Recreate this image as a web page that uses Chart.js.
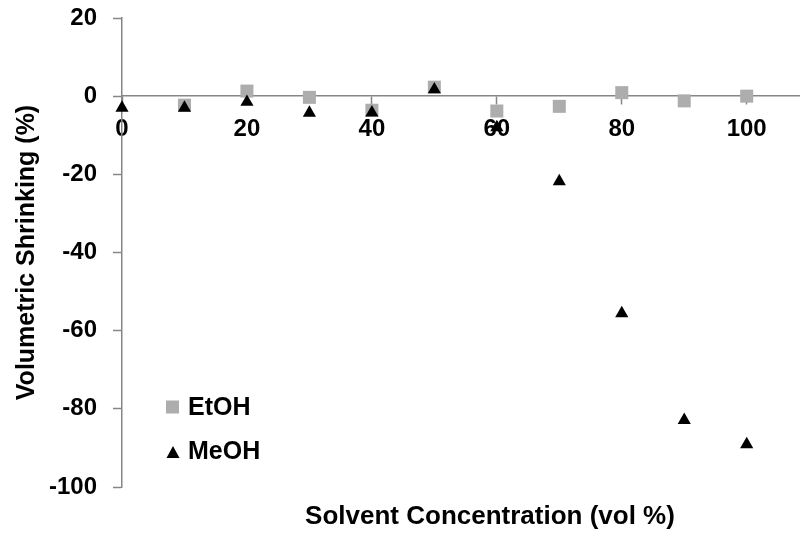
<!DOCTYPE html>
<html>
<head>
<meta charset="utf-8">
<script src="https://cdn.jsdelivr.net/npm/chart.js@4.4.0/dist/chart.umd.min.js"></script>
<style>
  html, body { margin: 0; padding: 0; background: #fff; }
  #wrap { width: 809px; height: 539px; }
</style>
</head>
<body>
<div id="wrap"><canvas id="shrink"></canvas></div>
<script>
const concentration = [0, 10, 20, 30, 40, 50, 60, 70, 80, 90, 100]
const etoh = [null, -2.3, 1.3, -0.3, -3.6, 2.3, -3.8, -2.6, 0.9, -1.2, 0.0]
const meoh = [-3.0, -3.0, -1.5, -4.3, -4.2, 1.7, -8.0, -21.8, -55.6, -82.9, -89.1]
const yTicks = [20, 0, -20, -40, -60, -80, -100]
const xTicks = [0, 20, 40, 60, 80, 100]

const axisGray = '#868686'
const squareGray = '#ADADAD'
const fontFamily = '"Liberation Sans", Arial, sans-serif'
const tickFont = { family: fontFamily, size: 24, weight: 'bold' }

const toPoints = (arr) => concentration.map((c, i) => ({ x: c, y: arr[i] })).filter(p => p.y !== null)

// legend + bottom axis title drawn by hand so they sit where the original has them
const extras = {
  id: 'extras',
  afterDraw(chart) {
    const c = chart.ctx
    c.save()
    c.textBaseline = 'middle'

    // legend
    c.fillStyle = squareGray
    c.fillRect(166, 400.5, 13, 13)
    c.fillStyle = '#000'
    c.beginPath()
    c.moveTo(173, 446)
    c.lineTo(179.5, 458)
    c.lineTo(166.5, 458)
    c.closePath()
    c.fill()
    c.font = 'bold 25px ' + fontFamily
    c.textAlign = 'left'
    c.fillText('EtOH', 188, 408)
    c.fillText('MeOH', 188, 452)

    // x axis title
    c.font = 'bold 26px ' + fontFamily
    c.textAlign = 'center'
    c.fillText('Solvent Concentration (vol %)', 490, 517)
    c.restore()
  }
}

const ctx = document.getElementById('shrink')

const shrinkChart = new Chart(ctx, {
  type: 'scatter',
  data: {
    datasets: [{
      label: 'EtOH',
      data: toPoints(etoh),
      order: 2,
      pointStyle: 'rect',
      pointRadius: 9.2,
      pointHoverRadius: 9.2,
      backgroundColor: squareGray,
      borderColor: squareGray,
      borderWidth: 0,
      clip: false
    }, {
      label: 'MeOH',
      data: toPoints(meoh),
      order: 1,
      pointStyle: 'triangle',
      pointRadius: 7.6,
      pointHoverRadius: 7.6,
      backgroundColor: '#000',
      borderColor: '#000',
      borderWidth: 0,
      clip: false
    }]
  },
  options: {
    responsive: true,
    maintainAspectRatio: false,
    animation: false,
    events: [],
    layout: { padding: { top: 18, right: 0, bottom: 52, left: 0 } },
    plugins: {
      legend: { display: false },
      tooltip: { enabled: false }
    },
    scales: {
      x: {
        type: 'linear',
        position: { y: 0 },
        min: 0,
        max: 108.5,
        z: 1,
        afterBuildTicks: (scale) => {
          scale.ticks = xTicks.map(v => ({ value: v }))
        },
        ticks: {
          color: '#000',
          font: tickFont,
          padding: 11,
          maxRotation: 0,
          autoSkip: false
        },
        grid: {
          drawOnChartArea: false,
          drawTicks: true,
          tickLength: 8,
          tickColor: axisGray,
          tickWidth: 1.5
        },
        border: { color: axisGray, width: 1.5 }
      },
      y: {
        type: 'linear',
        min: -100,
        max: 20,
        afterBuildTicks: (scale) => {
          scale.ticks = yTicks.map(v => ({ value: v }))
        },
        afterFit: (scale) => {
          scale.width = 122
          scale.paddingTop = 0
          scale.paddingBottom = 0
        },
        ticks: {
          color: '#000',
          font: tickFont,
          padding: 16
        },
        grid: {
          drawOnChartArea: false,
          drawTicks: true,
          tickLength: 9,
          tickColor: axisGray,
          tickWidth: 1.5
        },
        border: { color: axisGray, width: 1.5 },
        title: {
          display: true,
          text: 'Volumetric Shrinking (%)',
          color: '#000',
          font: { family: fontFamily, size: 25, weight: 'bold' },
          padding: { top: 12, bottom: 0 }
        }
      }
    }
  },
  plugins: [extras]
})
</script>
</body>
</html>
